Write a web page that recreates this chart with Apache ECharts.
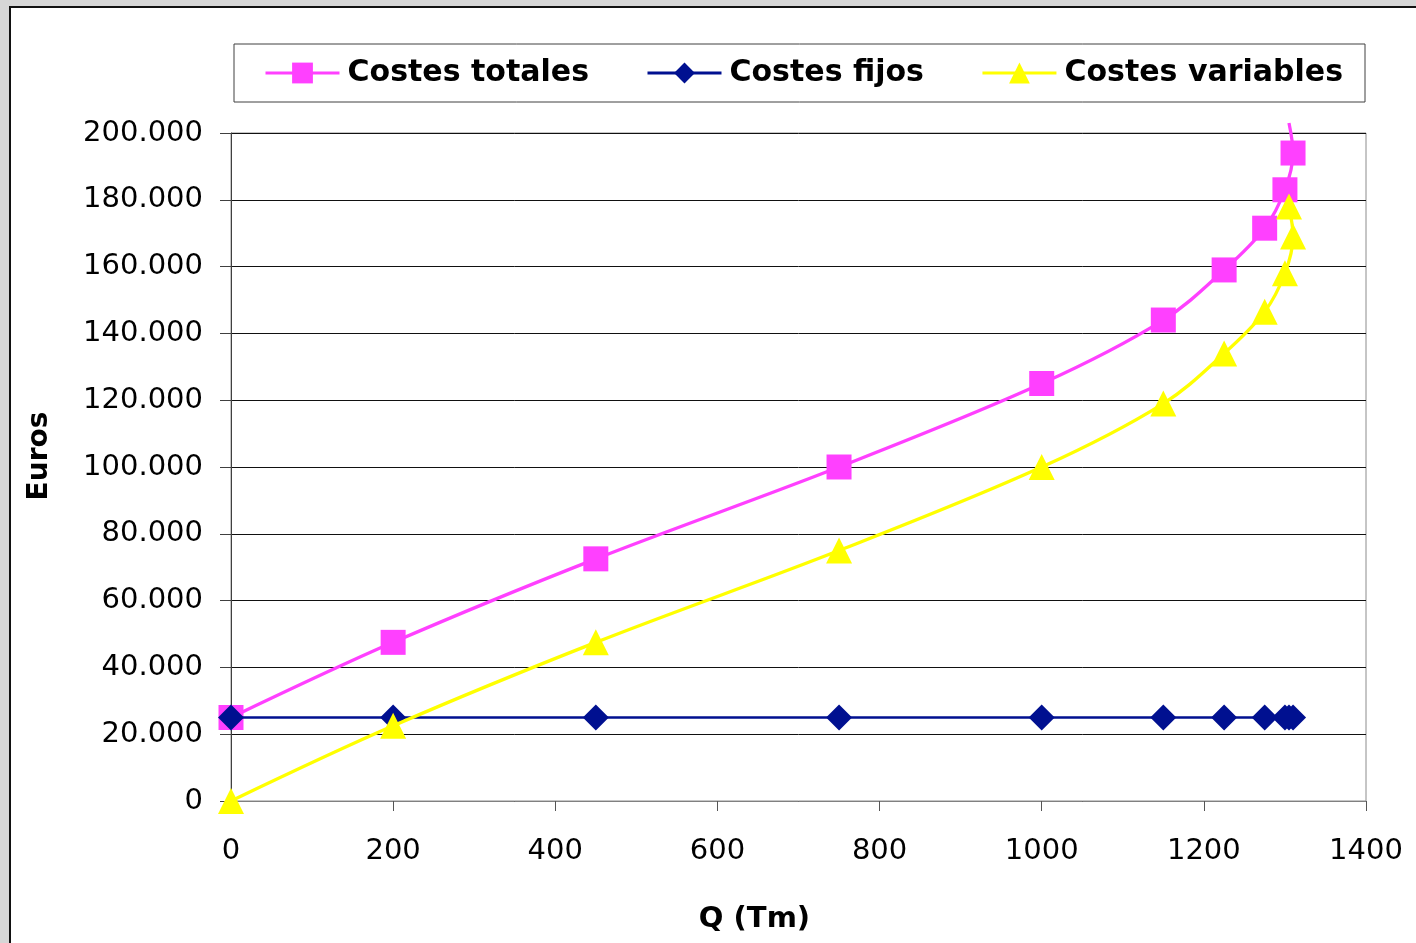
<!DOCTYPE html>
<html>
<head>
<meta charset="utf-8">
<script src="https://cdn.jsdelivr.net/npm/echarts@6/dist/echarts.min.js"></script>
<style>
  html, body { margin:0; padding:0; width:1416px; height:943px; overflow:hidden; background:#d6d6d6; }
  #panel { position:absolute; left:9px; top:6px; width:1407px; height:937px; background:#fff; border-left:2px solid #111; border-top:2px solid #111; box-sizing:border-box; }
  #chart { position:absolute; left:0; top:0; width:1416px; height:943px; }
</style>
</head>
<body>
<div id="panel"></div>
<div id="chart"></div>
<script>
// Data
const seriesNames = ['Costes totales', 'Costes fijos', 'Costes variables'];
const qValues = [0, 200, 450, 750, 1000, 1150, 1225, 1275, 1300, 1310, 1305];
const costesTotales = [25000, 47500, 72500, 100000, 125000, 144000, 159000, 171500, 183000, 194000, 203000];
const costesFijos = [25000, 25000, 25000, 25000, 25000, 25000, 25000, 25000, 25000, 25000, 25000];
const costesVariables = [0, 22500, 47500, 75000, 100000, 119000, 134000, 146500, 158000, 169000, 178000];
const xTicks = [0, 200, 400, 600, 800, 1000, 1200, 1400];
const yTicks = [0, 20000, 40000, 60000, 80000, 100000, 120000, 140000, 160000, 180000, 200000];

const yMax = yTicks[yTicks.length - 1];
const xMax = xTicks[xTicks.length - 1];

function fmt(v) { return String(v).replace(/\B(?=(\d{3})+(?!\d))/g, '.'); }
function pairs(ys) {
  return qValues.map((q, i) => {
    const item = { value: [q, ys[i]] };
    if (ys[i] > yMax) item.symbol = 'none';
    return item;
  });
}

const FONT = 'DejaVu Sans';
const chart = echarts.init(document.getElementById('chart'), null, { renderer: 'canvas' });
chart.setOption({
  backgroundColor: 'transparent',
  animation: false,
  textStyle: { fontFamily: FONT },
  legend: {
    left: 234, top: 44,
    padding: [14, 22, 14, 30],
    borderColor: '#404040', borderWidth: 1,
    itemGap: 57, itemWidth: 74, itemHeight: 26,
    lineStyle: { width: 3 },
    textStyle: { fontFamily: FONT, fontWeight: 'bold', fontSize: 30, color: '#000', padding: [0, 0, 0, 3] },
    data: seriesNames
  },
  grid: { left: 231, top: 133, width: 1135, height: 668, show: true, borderColor: '#8c8c8c', borderWidth: 1, backgroundColor: 'transparent' },
  xAxis: {
    type: 'value', min: 0, max: xMax, interval: 200,
    name: 'Q (Tm)', nameLocation: 'middle', nameGap: 104,
    nameTextStyle: { fontFamily: FONT, fontWeight: 'bold', fontSize: 29, color: '#000', padding: [0, 88, 0, 0] },
    axisLine: { show: true, lineStyle: { color: '#808080', width: 1 } },
    axisTick: { show: true, inside: false, length: 10, lineStyle: { color: '#555' } },
    axisLabel: { fontFamily: FONT, fontSize: 29, color: '#000', margin: 36, formatter: v => String(v) },
    splitLine: { show: false }
  },
  yAxis: {
    type: 'value', min: 0, max: yMax, interval: 20000,
    name: 'Euros', nameLocation: 'middle', nameGap: 177, nameRotate: 90,
    nameTextStyle: { fontFamily: FONT, fontWeight: 'bold', fontSize: 28, color: '#000', padding: [0, 0, 0, 22] },
    axisLine: { show: true, lineStyle: { color: '#404040', width: 1 } },
    axisTick: { show: true, inside: false, length: 11, lineStyle: { color: '#404040' } },
    axisLabel: { fontFamily: FONT, fontSize: 29, color: '#000', margin: 28, formatter: v => fmt(v) },
    splitLine: { show: true, lineStyle: { color: '#111', width: 1 } }
  },
  series: [
    {
      name: seriesNames[0], type: 'line', data: pairs(costesTotales), smooth: 0.35, clip: false,
      symbol: 'rect', symbolSize: 25, z: 2,
      lineStyle: { color: '#FF40FF', width: 3.3 }, itemStyle: { color: '#FF40FF' }
    },
    {
      name: seriesNames[1], type: 'line', data: pairs(costesFijos), smooth: 0.35, clip: false,
      symbol: 'diamond', symbolSize: 26, z: 3,
      lineStyle: { color: '#001090', width: 2.5 }, itemStyle: { color: '#001090' }
    },
    {
      name: seriesNames[2], type: 'line', data: pairs(costesVariables), smooth: 0.35, clip: false,
      symbol: 'triangle', symbolSize: 26, z: 4,
      lineStyle: { color: '#FFFF00', width: 3.3 }, itemStyle: { color: '#FFFF00' }
    }
  ]
});
</script>
</body>
</html>
